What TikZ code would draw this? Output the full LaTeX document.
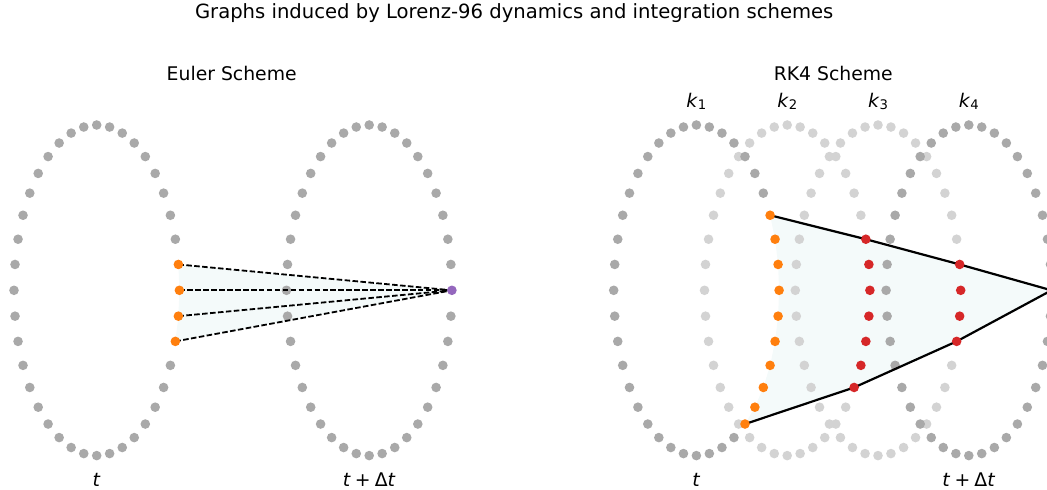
\documentclass[tikz,border=0pt]{standalone}
\usepackage{fontspec}
\setmainfont{DejaVu Sans}
\usepackage{graphicx}
\pgfdeclarelayer{bg}\pgfdeclarelayer{ln}\pgfdeclarelayer{fg}
\pgfsetlayers{bg,main,ln,fg}
\definecolor{dgray}{HTML}{A9A9A9}
\definecolor{lgray}{HTML}{D3D3D3}
\definecolor{torange}{HTML}{FF7F0E}
\definecolor{tred}{HTML}{D62728}
\definecolor{tpurple}{HTML}{9467BD}
\definecolor{hullfill}{HTML}{F4FAFA}
\tikzset{
 dot/.style={circle,inner sep=0pt,minimum size=9.6pt,draw=none},
 txt/.style={font=\fontsize{18.8}{22}\selectfont, anchor=base, inner sep=0pt},
 edgedash/.style={black, line width=1.8pt, dash pattern=on 5.55pt off 2.4pt},
 edgesolid/.style={black, line width=2.2pt, line join=round, line cap=round},
}
% #1 name, #2 centre x, #3 base colour, #4 highlight colour, highlighted if k<=#5 or k>=#6
\newcommand\dotring[6]{%
 \foreach \k in {0,...,39}{%
  \pgfmathtruncatemacro\hl{(\k<=#5)||(\k>=#6)}%
  \ifnum\hl=1
   \begin{pgfonlayer}{fg}\node[dot,fill=#4] (#1-\k) at ({#2+82.7*cos(9*\k)},{-290.3+165.3*sin(9*\k)}) {};\end{pgfonlayer}%
  \else
   \node[dot,fill=#3] (#1-\k) at ({#2+82.7*cos(9*\k)},{-290.3+165.3*sin(9*\k)}) {};%
  \fi
 }}
\newcommand\kk[1]{\textit{k}\raisebox{-2.8pt}{\fontsize{13.2}{14}\selectfont #1}}
\begin{document}
\begin{tikzpicture}[x=1pt,y=1pt]
\useasboundingbox (0,0) rectangle (1047,-490);
% Euler
\dotring{E1}{96.7}{dgray}{torange}{1}{38}
\dotring{E2}{369.2}{dgray}{tpurple}{0}{40}
% RK4
\dotring{R2}{787.2}{lgray}{tred}{2}{36}
\dotring{R3}{878.0}{lgray}{tred}{1}{38}
\dotring{R1}{696.4}{dgray}{torange}{3}{34}
\dotring{R4}{968.8}{dgray}{tpurple}{0}{40}
\begin{pgfonlayer}{bg}
\fill[hullfill] (E1-1.center) -- (E1-0.center) -- (E1-39.center) -- (E1-38.center) -- (E2-0.center) -- cycle;
\fill[hullfill] (R1-3.center) -- (R1-2.center) -- (R1-1.center) -- (R1-0.center) -- (R1-39.center) -- (R1-38.center) -- (R1-37.center) -- (R1-36.center) -- (R1-35.center) -- (R1-34.center) -- (R2-36.center) -- (R3-38.center) -- (R4-0.center) -- (R3-1.center) -- (R2-2.center) -- cycle;
\end{pgfonlayer}
\begin{pgfonlayer}{ln}
\foreach \k in {1,0,39,38} \draw[edgedash] (E1-\k.center) -- (E2-0.center);
\draw[edgesolid] (R1-3.center) -- (R2-2.center) -- (R3-1.center) -- (R4-0.center) -- (R3-38.center) -- (R2-36.center) -- (R1-34.center);
\end{pgfonlayer}
% texts
\node[txt,font=\fontsize{19.6}{23}\selectfont] (title) at (514.2,-18.3) {Graphs induced by Lorenz-96 dynamics and integration schemes};
\node[txt] (eul) at (231.7,-80) {Euler Scheme};
\node[txt] (rk) at (833.3,-80) {RK4 Scheme};
\node[txt] (lk1) at (696.4,-107) {\kk{1}};
\node[txt] (lk2) at (787.2,-107) {\kk{2}};
\node[txt] (lk3) at (878.0,-107) {\kk{3}};
\node[txt] (lk4) at (968.8,-107) {\kk{4}};
\node[txt] (te1) at (96.7,-486) {\textit{t}};
\node[txt] (te2) at (369.2,-486) {\textit{t}\hspace{0.22em}+\hspace{0.22em}Δ\textit{t}};
\node[txt] (tr1) at (696.4,-486) {\textit{t}};
\node[txt] (tr2) at (968.8,-486) {\textit{t}\hspace{0.22em}+\hspace{0.22em}Δ\textit{t}};
\end{tikzpicture}
\end{document}
